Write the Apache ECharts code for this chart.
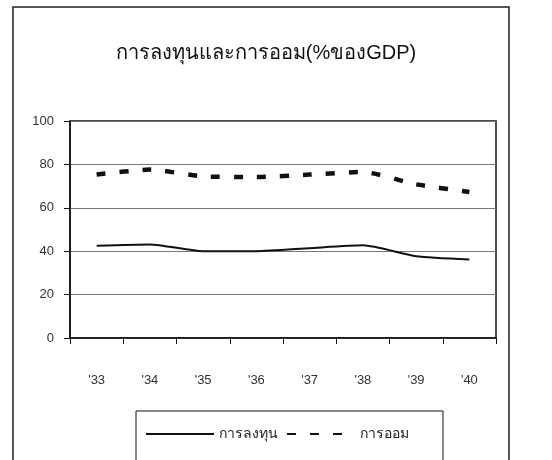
<!DOCTYPE html>
<html><head><meta charset="utf-8">
<script src="https://cdn.jsdelivr.net/npm/echarts@6/dist/echarts.min.js"></script>
<style>html,body{margin:0;padding:0;background:#fff}#c{width:552px;height:460px}</style>
</head><body><div id="c"></div>
<script>
const categories = ["'33","'34","'35","'36","'37","'38","'39","'40"];
const investment = [42.5, 43.1, 40.0, 40.0, 41.4, 42.7, 37.7, 36.2];
const saving = [75.3, 77.6, 74.5, 74.2, 75.3, 76.5, 70.8, 67.3];
const seriesNames = ["การลงทุน", "การออม"];
const titleText = "การลงทุนและการออม(%ของGDP)";
const yMin = 0, yMax = 100, yStep = 20;

const ff = "'Liberation Sans', Arial, sans-serif";
const chart = echarts.init(document.getElementById('c'), null, {renderer: 'canvas'});
chart.setOption({
  backgroundColor: '#fff',
  animation: false,
  title: {
    text: titleText, left: 261, textAlign: 'center', top: 38,
    textStyle: {fontFamily: ff, fontSize: 20, fontWeight: 'normal', color: '#111'}
  },
  graphic: [{
    type: 'rect', shape: {x: 13, y: 7, width: 496, height: 470},
    style: {fill: 'none', stroke: '#222', lineWidth: 1.5}, silent: true
  }],
  grid: {left: 70, right: 56, top: 121, bottom: 122, show: true, borderColor: '#111', borderWidth: 1.5},
  legend: {
    data: seriesNames, left: 136, top: 411,
    padding: [16, 34, 40, 9], borderColor: '#111', borderWidth: 1,
    itemWidth: 68, itemHeight: 12, itemGap: 8,
    itemStyle: {opacity: 0},
    textStyle: {fontFamily: ff, fontSize: 14, color: '#222'}
  },
  xAxis: {
    type: 'category', data: categories, boundaryGap: true,
    axisLine: {lineStyle: {color: '#111', width: 1.5}},
    axisTick: {show: true, length: 6, lineStyle: {color: '#111'}},
    axisLabel: {margin: 36, fontFamily: ff, fontSize: 13, color: '#333'},
    splitLine: {show: false}
  },
  yAxis: {
    type: 'value', min: yMin, max: yMax, interval: yStep,
    axisLine: {show: true, lineStyle: {color: '#111', width: 1.5}},
    axisTick: {show: true, length: 6, lineStyle: {color: '#111'}},
    axisLabel: {margin: 16, fontFamily: ff, fontSize: 13, color: '#333'},
    splitLine: {show: true, lineStyle: {color: '#777', width: 1}}
  },
  series: [
    {name: seriesNames[0], type: 'line', data: investment, symbol: 'none', smooth: 0.2,
     lineStyle: {color: '#111', width: 2}, itemStyle: {color: '#111'}},
    {name: seriesNames[1], type: 'line', data: saving, symbol: 'none', smooth: 0.2,
     lineStyle: {color: '#111', width: 4.5, type: [9, 14]}, itemStyle: {color: '#111'}}
  ]
});
</script></body></html>
